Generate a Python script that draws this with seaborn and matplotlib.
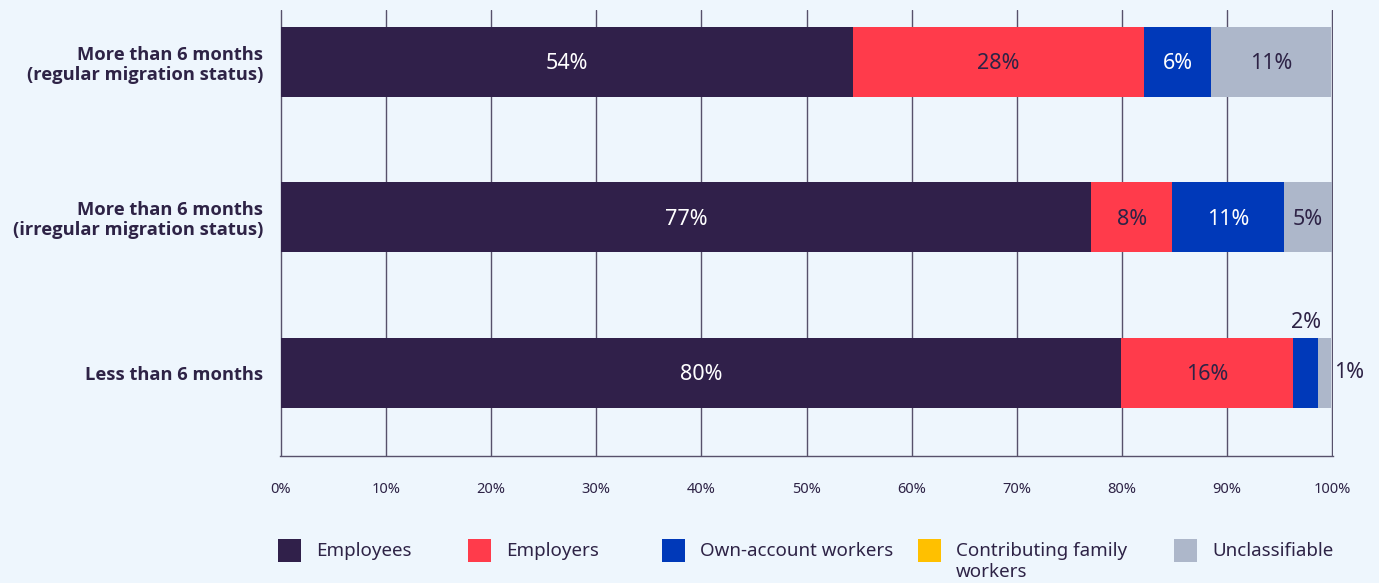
import matplotlib
matplotlib.use("Agg")
import matplotlib.pyplot as plt
from matplotlib.patches import Rectangle
import seaborn as sns
import pandas as pd
import numpy as np

# Status in employment of migrant workers, by duration / migration status (%)
groups = [
    "More than 6 months\n(regular migration status)",
    "More than 6 months\n(irregular migration status)",
    "Less than 6 months",
]
series = ["Employees", "Employers", "Own-account workers",
          "Contributing family workers", "Unclassifiable"]
legend_labels = ["Employees", "Employers", "Own-account workers",
                 "Contributing family\nworkers", "Unclassifiable"]

employees = [54.4, 77.1, 79.9]
employers = [27.7, 7.7, 16.4]
own_account = [6.4, 10.6, 2.4]
family_workers = [0.0, 0.0, 0.0]
unclassifiable = [11.4, 4.6, 1.2]

x_ticks = [0, 10, 20, 30, 40, 50, 60, 70, 80, 90, 100]

colors = ["#30204a", "#ff3b4b", "#0039b9", "#ffc000", "#adb7ca"]
label_colors = ["white", "#2e2346", "white", "#2e2346", "#2e2346"]

BG = "#eef6fd"
TEXT = "#2e2346"
GRID = "#57516b"

values = [employees, employers, own_account, family_workers, unclassifiable]
vals = np.array(values)
cums = np.cumsum(vals, axis=0)

rows = []
for si, name in enumerate(series):
    for gi, g in enumerate(groups):
        rows.append({"group": g, "series": name,
                     "value": vals[si, gi], "cum": cums[si, gi]})
df = pd.DataFrame(rows)

sns.set_style("white")
plt.rcParams["font.family"] = ["Noto Sans", "DejaVu Sans"]

fig = plt.figure(figsize=(13.79, 5.83), dpi=100)
fig.patch.set_facecolor(BG)
W, H = 1379, 583
ax = fig.add_axes([280 / W, 1 - 456 / H, (1333 - 280) / W, (456 - 10) / H])
ax.set_facecolor(BG)

# Stacked bars: draw cumulative totals from the outermost segment inwards
for si in reversed(range(len(series))):
    if vals[si].sum() == 0:
        continue
    sub = df[df["series"] == series[si]]
    sns.barplot(data=sub, x="cum", y="group", order=groups, orient="h",
                color=colors[si], saturation=1, width=0.45, linewidth=0,
                ax=ax, zorder=2)

# Segment value labels
VFS = 15.5
for gi in range(len(groups)):
    last = max(i for i in range(len(series)) if vals[i, gi] > 0)
    for si in range(len(series)):
        v = vals[si, gi]
        if v <= 0:
            continue
        txt = f"{v:.0f}%"
        center = cums[si, gi] - v / 2
        if v < 3 and si == last:
            ax.text(cums[si, gi] + 0.3, gi, txt, ha="left", va="center",
                    fontsize=VFS, color=TEXT, zorder=4)
        elif v < 3:
            ax.text(center, gi - 0.225 - 0.03, txt, ha="center", va="bottom",
                    fontsize=VFS, color=TEXT, zorder=4)
        else:
            ax.text(center, gi + 0.01, txt, ha="center", va="center",
                    fontsize=VFS, color=label_colors[si], zorder=4)

ax.set_xlim(-0.08, 100.08)
ax.set_ylim(2.534, -0.334)
ax.set_xticks(x_ticks)
ax.set_xticklabels([f"{t}%" for t in x_ticks])
ax.set_yticks(range(len(groups)))
ax.set_yticklabels(groups, fontsize=13.2, fontweight="bold", linespacing=1.12,
                   family=["Open Sans", "Noto Sans", "DejaVu Sans"])
ax.set_xlabel("")
ax.set_ylabel("")

ax.set_axisbelow(True)
ax.xaxis.grid(True, color=GRID, linewidth=1, zorder=0)
ax.yaxis.grid(False)
for s in ["top", "right", "left"]:
    ax.spines[s].set_visible(False)
ax.spines["bottom"].set_color(GRID)
ax.spines["bottom"].set_linewidth(1)

ax.tick_params(axis="x", length=0, pad=19, labelsize=10.5, labelcolor=TEXT)
ax.tick_params(axis="y", length=0, pad=12, labelcolor=TEXT)

# Legend row
patch_x = [278, 468, 662, 918, 1174]
for px, lab, col in zip(patch_x, legend_labels, colors):
    fig.add_artist(Rectangle((px / W, 1 - 562 / H), 23 / W, 23 / H,
                             transform=fig.transFigure, facecolor=col,
                             edgecolor="none"))
    yc = 551 if "\n" not in lab else 561.5
    fig.text((px + 38) / W, 1 - yc / H, lab, ha="left", va="center",
             fontsize=13.5, color=TEXT, linespacing=1.2)

fig.savefig("out.png", dpi=100, facecolor=BG)
